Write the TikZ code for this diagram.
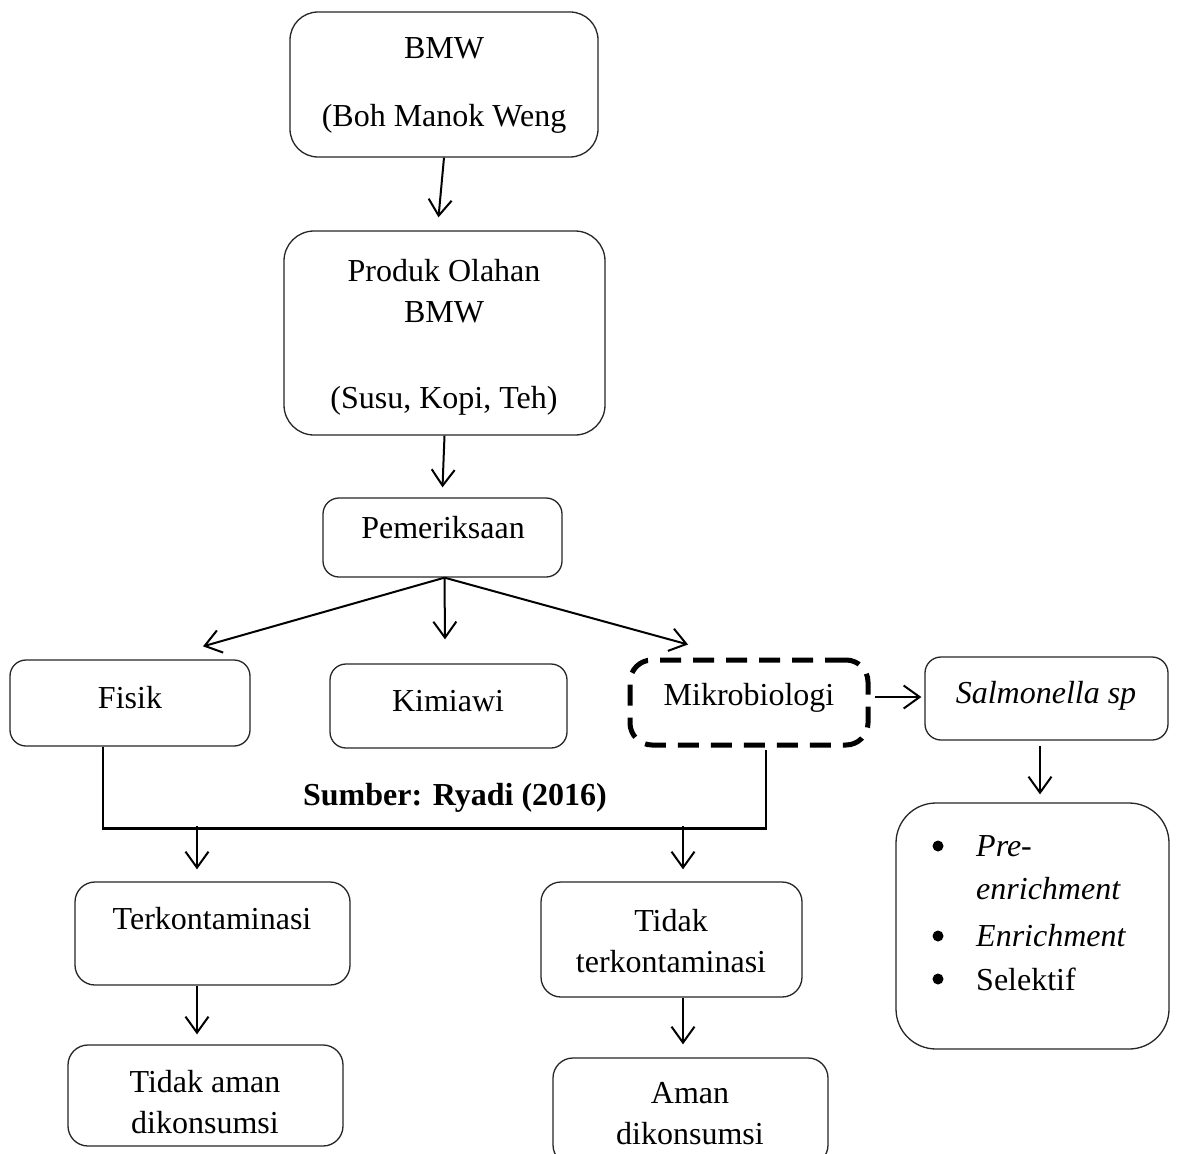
\documentclass[tikz,border=0pt]{standalone}
\usepackage{fontspec}
\setmainfont{Liberation Serif}
\usetikzlibrary{arrows.meta}
\begin{document}
\begin{tikzpicture}[x=1pt,y=-1pt,
 box/.style={draw=black!85, line width=1.3pt, rounded corners=16pt, inner sep=0pt},
 dbox/.style={draw=black, line width=5pt, dash pattern=on 21pt off 12pt, rounded corners=22pt, inner sep=0pt},
 txt/.style={font=\fontsize{32}{41}\selectfont, align=center, inner sep=0pt},
 dot/.style={circle, fill=black, inner sep=0pt, minimum size=11pt},
 arr/.style={-{Straight Barb[length=16pt,width=23pt]}, line width=2pt},
 ln/.style={line width=2.2pt}]
\useasboundingbox (0,0) rectangle (1177,1153);
\fill[white] (0,0) rectangle (1177,1153);

% boxes
\node[box, rounded corners=28pt, minimum width=308pt, minimum height=145pt] (bmw) at (444,84.5) {};
\node[box, rounded corners=30pt, minimum width=321pt, minimum height=204pt] (produk) at (444.5,333) {};
\node[box, minimum width=239pt, minimum height=79pt] (pem) at (442.5,537.5) {};
\node[box, minimum width=240pt, minimum height=86pt] (fisik) at (130,703) {};
\node[box, minimum width=237pt, minimum height=84pt] (kimia) at (448.5,706) {};
\node[dbox, minimum width=238pt, minimum height=85pt] (mikro) at (749,702.5) {};
\node[box, minimum width=243pt, minimum height=83pt] (salm) at (1046.5,698.5) {};
\node[box, rounded corners=40pt, minimum width=273pt, minimum height=246pt] (bul) at (1032.5,926) {};
\node[box, rounded corners=20pt, minimum width=275pt, minimum height=103pt] (terk) at (212.5,933.5) {};
\node[box, rounded corners=20pt, minimum width=261pt, minimum height=115pt] (tidak) at (671.5,939.5) {};
\node[box, rounded corners=20pt, minimum width=275pt, minimum height=101pt] (tam) at (205.5,1095.5) {};
\node[box, rounded corners=20pt, minimum width=275pt, minimum height=107pt] (aman) at (690.5,1111.5) {};

% texts
\node[txt] (tbmw) at (444,85) {BMW\\[27pt](Boh Manok Weng};
\node[txt] (tprod) at (444,337) {Produk Olahan\\BMW\\[45pt](Susu, Kopi, Teh)};
\node[txt] (tpem) at (443,528) {Pemeriksaan};
\node[txt] (tfis) at (130,698) {Fisik};
\node[txt] (tkim) at (448,701) {Kimiawi};
\node[txt] (tmik) at (749,698) {Mikrobiologi};
\node[txt] (tsal) at (1046,696) {\itshape Salmonella sp};
\node[txt] (tterk) at (212,919) {Terkontaminasi};
\node[txt] (ttid) at (671,941) {Tidak\\terkontaminasi};
\node[txt] (ttam) at (205,1102) {Tidak aman\\dikonsumsi};
\node[txt] (taman) at (690,1114) {Aman\\dikonsumsi};
\node[txt, font=\fontsize{32}{41}\selectfont\bfseries] (src) at (455,798) {Sumber: Ryadi (2016)};

% bullet list
\node[dot] (b1) at (938,846) {};
\node[dot] (b2) at (938,936) {};
\node[dot] (b3) at (938,979) {};
\node[txt, anchor=west] (l1) at (976,846) {\itshape Pre-};
\node[txt, anchor=west] (l2) at (976,889) {\itshape enrichment};
\node[txt, anchor=west] (l3) at (976,936) {\itshape Enrichment};
\node[txt, anchor=west] (l4) at (976,979) {Selektif};

% connectors
\draw[arr] (bmw.south) -- ([xshift=-6pt,yshift=13pt]produk.north);
\draw[arr] (produk.south) -- ([yshift=10pt]pem.north);
\coordinate (pemout) at ([xshift=2pt]pem.south);
\draw[arr] (pemout) -- ([xshift=73pt,yshift=13pt]fisik.north);
\draw[arr] (pemout) -- ([xshift=-3.5pt,yshift=24pt]kimia.north);
\draw[arr] (pemout) -- ([xshift=-61pt,yshift=13pt]mikro.north);
\draw[arr] ([xshift=4pt,yshift=5.5pt]mikro.east) -- ([xshift=-3pt,yshift=1.5pt]salm.west);
\draw[arr] ([xshift=-6.5pt,yshift=-5pt]salm.south) -- ([xshift=7.5pt,yshift=8pt]bul.north);

\draw[ln] ([xshift=-27pt]fisik.south) |- ([xshift=17pt,yshift=-81pt]mikro.south) -- ([xshift=17pt,yshift=-2.5pt]mikro.south);
\coordinate (jt) at (197,826);
\coordinate (jn) at (683,826);
\draw[arr] (jt) -- ([xshift=-15.5pt,yshift=12pt]terk.north);
\draw[arr] (jn) -- ([xshift=11.5pt,yshift=12pt]tidak.north);
\draw[arr] ([xshift=-15.5pt]terk.south) -- ([xshift=-8.5pt,yshift=10pt]tam.north);
\draw[arr] ([xshift=11.5pt]tidak.south) -- ([xshift=-7.5pt,yshift=13pt]aman.north);
\end{tikzpicture}
\end{document}
